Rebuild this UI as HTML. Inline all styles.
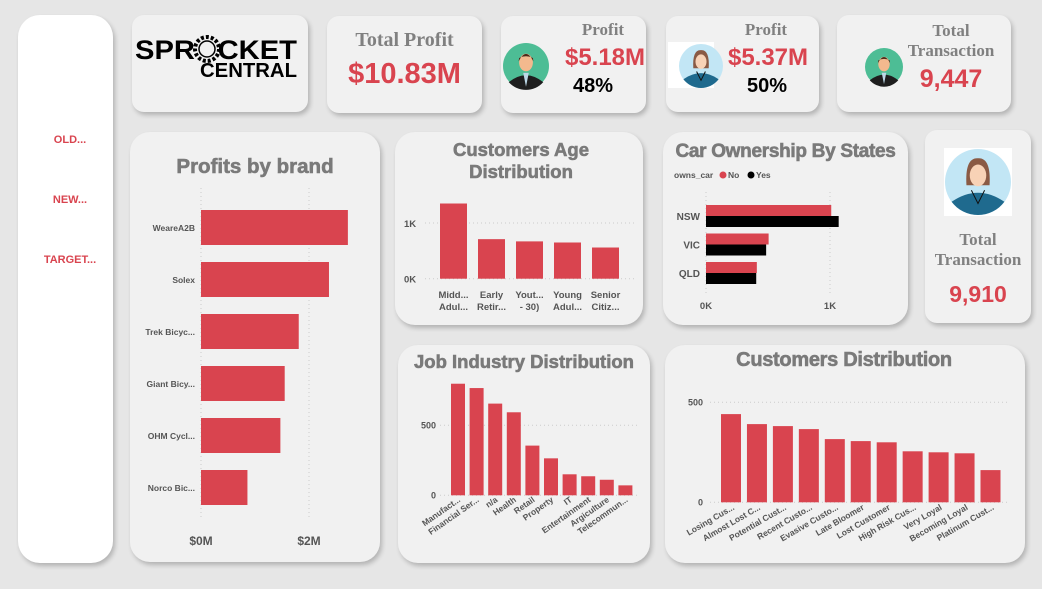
<!DOCTYPE html>
<html><head><meta charset="utf-8">
<style>
body{margin:0;width:1042px;height:589px;background:#e6e6e6;overflow:hidden;position:relative;font-family:"Liberation Sans",sans-serif}
.card{position:absolute;background:#f1f1f1;border-radius:12px;box-shadow:2px 3px 5px rgba(0,0,0,0.22)}
.big{border-radius:20px}
.t{position:absolute;white-space:nowrap;text-align:center}
.serif{font-family:"Liberation Serif",serif;font-weight:bold;color:#808080}
.red{color:#d9444f;font-weight:bold}
.ct{font-weight:bold;color:#7a7a7a;-webkit-text-stroke:0.6px #7a7a7a}
svg{position:absolute;left:0;top:0}
</style></head><body>
<div class="card big" style="left:18px;top:15px;width:95px;height:548px;background:#fff;border-radius:22px"></div>
<div class="card" style="left:132px;top:15px;width:176px;height:97px"></div>
<div class="card" style="left:327px;top:16px;width:155px;height:97px"></div>
<div class="card" style="left:501px;top:16px;width:145px;height:97px"></div>
<div class="card" style="left:666px;top:16px;width:153px;height:96px"></div>
<div class="card" style="left:837px;top:15px;width:174px;height:97px"></div>
<div class="card big" style="left:130px;top:132px;width:250px;height:430px"></div>
<div class="card big" style="left:395px;top:132px;width:248px;height:193px"></div>
<div class="card big" style="left:663px;top:132px;width:245px;height:193px"></div>
<div class="card" style="left:925px;top:130px;width:106px;height:193px"></div>
<div class="card big" style="left:398px;top:345px;width:252px;height:218px"></div>
<div class="card big" style="left:665px;top:345px;width:360px;height:218px"></div>

<div class="t red" style="left:30px;top:134px;width:80px;font-size:11px">OLD...</div>
<div class="t red" style="left:30px;top:194px;width:80px;font-size:11px">NEW...</div>
<div class="t red" style="left:30px;top:254px;width:80px;font-size:11px">TARGET...</div>

<div class="t serif" style="left:327px;top:29px;width:155px;font-size:20px">Total Profit</div>
<div class="t red" style="left:327px;top:58px;width:155px;font-size:29px">$10.83M</div>
<div class="t serif" style="left:553px;top:20px;width:100px;font-size:17px">Profit</div>
<div class="t red" style="left:553px;top:44px;width:104px;font-size:24px">$5.18M</div>
<div class="t" style="left:553px;top:75px;width:80px;font-size:20px;font-weight:bold;color:#000">48%</div>
<div class="t serif" style="left:716px;top:20px;width:100px;font-size:17px">Profit</div>
<div class="t red" style="left:716px;top:44px;width:104px;font-size:24px">$5.37M</div>
<div class="t" style="left:727px;top:75px;width:80px;font-size:20px;font-weight:bold;color:#000">50%</div>
<div class="t serif" style="left:896px;top:21px;width:110px;font-size:17px;line-height:20px">Total<br>Transaction</div>
<div class="t red" style="left:896px;top:65px;width:110px;font-size:25px">9,447</div>
<div class="t serif" style="left:925px;top:230px;width:106px;font-size:17px;line-height:20px">Total<br>Transaction</div>
<div class="t red" style="left:925px;top:281px;width:106px;font-size:23px">9,910</div>

<div class="t ct" style="left:130px;top:155px;width:250px;font-size:20.5px">Profits by brand</div>
<div class="t ct" style="left:395px;top:139px;width:252px;font-size:18.5px;line-height:22px">Customers Age<br>Distribution</div>
<div class="t ct" style="left:663px;top:141px;width:245px;font-size:19px;letter-spacing:-0.3px">Car Ownership By States</div>
<div class="t ct" style="left:398px;top:351px;width:252px;font-size:18.5px">Job Industry Distribution</div>
<div class="t ct" style="left:665px;top:349px;width:358px;font-size:20px;letter-spacing:-0.3px">Customers Distribution</div>

<svg id="chart" width="1042" height="589">
 <g>
  <text x="135" y="59" font-family="Liberation Sans" font-weight="bold" font-size="27" textLength="162" lengthAdjust="spacingAndGlyphs" fill="#000">SPROCKET</text>
  <text x="200" y="77" font-family="Liberation Sans" font-weight="bold" font-size="20" textLength="97" lengthAdjust="spacingAndGlyphs" fill="#000">CENTRAL</text>
  <circle cx="207" cy="49" r="12" fill="#f1f1f1" stroke="#000" stroke-width="4" stroke-dasharray="3 2"/>
  <circle cx="207" cy="49" r="8" fill="#f1f1f1" stroke="#000" stroke-width="1.5"/>
 </g>
 <g id="avatars"></g>
 <g id="brandG"></g><g id="ageG"></g><g id="carG"></g><g id="jobG"></g><g id="custG"></g>
</svg>
<script>
const brandCats=["WeareA2B","Solex","Trek Bicyc...","Giant Bicy...","OHM Cycl...","Norco Bic..."];
const brandVals=[2.72,2.37,1.81,1.55,1.47,0.86];
const brandTicks=[0,2];
const ageCats=[["Midd...","Adul..."],["Early","Retir..."],["Yout...","- 30)"],["Young","Adul..."],["Senior","Citiz..."]];
const ageVals=[1.35,0.71,0.67,0.65,0.56];
const ageTicks=[0,1];
const carStates=["NSW","VIC","QLD"];
const carNo=[1.01,0.505,0.41];
const carYes=[1.07,0.485,0.405];
const carTicks=[0,1];
const jobCats=["Manufact...","Financial Ser...","n/a","Health","Retail","Property","IT","Entertainment","Argiculture","Telecommun..."];
const jobVals=[797,766,655,593,355,264,150,136,111,71];
const jobTicks=[0,500];
const custCats=["Losing Cus...","Almost Lost C...","Potential Cust...","Recent Custo...","Evasive Custo...","Late Bloomer","Lost Customer","High Risk Cus...","Very Loyal","Becoming Loyal","Platinum Cust..."];
const custVals=[441,391,381,366,316,306,300,255,250,245,161];
const custTicks=[0,500];

const NS="http://www.w3.org/2000/svg";
const RED="#d9444f";
function mk(parent,tag,attrs,txt){const e=document.createElementNS(NS,tag);for(const k in attrs)e.setAttribute(k,attrs[k]);if(txt!==undefined)e.textContent=txt;parent.appendChild(e);return e;}
const lblStyle={"font-family":"Liberation Sans","font-weight":"bold",fill:"#555"};

(function(){const g=document.getElementById('brandG');
 const x=v=>201+v*54;const y=i=>210+i*52;
 brandTicks.forEach(t=>{const l=mk(g,'line',{x1:x(t),x2:x(t),y1:188,y2:520,stroke:"#ccc","stroke-dasharray":"1 3"});
  
  
  const tx=mk(g,'text',Object.assign({x:x(t),y:545,"text-anchor":"middle","font-size":12},lblStyle),"$"+t+"M");
  
  });
 brandCats.forEach((c,i)=>{const r=mk(g,'rect',{x:x(0),y:y(i),width:x(brandVals[i])-x(0),height:35,fill:RED});
  
  
  const t=mk(g,'text',Object.assign({x:195,y:y(i)+21,"text-anchor":"end","font-size":8.5},lblStyle),c);
  
  });
})();
(function(){const g=document.getElementById('ageG');
 const y=v=>278.7-v*55.7;const x=i=>440+i*38;
 ageTicks.forEach(t=>{const l=mk(g,'line',{x1:425,x2:635,y1:y(t),y2:y(t),stroke:"#ccc","stroke-dasharray":"1 3"});
  
  
  const tx=mk(g,'text',Object.assign({x:404,y:y(t)+4,"font-size":9.5},lblStyle),t+"K");
  
  });
 ageCats.forEach((c,i)=>{const r=mk(g,'rect',{x:x(i),y:y(ageVals[i]),width:27,height:y(0)-y(ageVals[i]),fill:RED});
  
  
  c.forEach((s,j)=>{const t=mk(g,'text',Object.assign({x:x(i)+13.5,y:298+j*12,"text-anchor":"middle","font-size":9.5},lblStyle),s);
  
  });});
})();
(function(){const g=document.getElementById('carG');
 const x=v=>706+v*124;const y=i=>205+i*28.5;
 const lg=mk(g,'text',Object.assign({x:674,y:178,"font-size":8.5},lblStyle),"owns_car");
 
 
 [[723,RED,"No"],[751,"#000","Yes"]].forEach(a=>{const c=mk(g,'circle',{cx:a[0],cy:175,r:3.5,fill:a[1]});
  
  
  const t=mk(g,'text',Object.assign({x:a[0]+5,y:178,"font-size":8.5},lblStyle),a[2]);
  
  });
 carTicks.forEach(t=>{const l=mk(g,'line',{x1:x(t),x2:x(t),y1:192,y2:295,stroke:"#ccc","stroke-dasharray":"1 3"});
  
  
  const tx=mk(g,'text',Object.assign({x:x(t),y:309,"text-anchor":"middle","font-size":9.5},lblStyle),t+"K");
  
  });
 carStates.forEach((s,i)=>{const r1=mk(g,'rect',{x:x(0),y:y(i),width:x(carNo[i])-x(0),height:11,fill:RED});
  
  
  const r2=mk(g,'rect',{x:x(0),y:y(i)+11,width:x(carYes[i])-x(0),height:11,fill:"#000"});
  
  
  const t=mk(g,'text',Object.assign({x:700,y:y(i)+15,"text-anchor":"end","font-size":10},lblStyle),s);
  
  });
})();
(function(){const g=document.getElementById('jobG');
 const y=v=>495.3-v*0.14;const x=i=>451+i*18.6;
 jobTicks.forEach(t=>{const l=mk(g,'line',{x1:440,x2:640,y1:y(t),y2:y(t),stroke:"#ccc","stroke-dasharray":"1 3"});
  
  
  const tx=mk(g,'text',Object.assign({x:436,y:y(t)+3,"text-anchor":"end","font-size":9},lblStyle),t);
  
  });
 jobCats.forEach((c,i)=>{const r=mk(g,'rect',{x:x(i),y:y(jobVals[i]),width:14,height:y(0)-y(jobVals[i]),fill:RED});
  
  
  const cx=x(i)+10,cy=501;
  const t=mk(g,'text',Object.assign({x:cx,y:cy,"text-anchor":"end","font-size":8.5,transform:`rotate(-35 ${cx} ${cy})`},lblStyle),c);
  
  });
})();
(function(){const g=document.getElementById('custG');
 const y=v=>502.3-v*0.2;const x=i=>721+i*25.95;
 custTicks.forEach(t=>{const l=mk(g,'line',{x1:710,x2:1010,y1:y(t),y2:y(t),stroke:"#ccc","stroke-dasharray":"1 3"});
  
  
  const tx=mk(g,'text',Object.assign({x:703,y:y(t)+3,"text-anchor":"end","font-size":9},lblStyle),t);
  
  });
 custCats.forEach((c,i)=>{const r=mk(g,'rect',{x:x(i),y:y(custVals[i]),width:20,height:y(0)-y(custVals[i]),fill:RED});
  
  
  const cx=x(i)+14,cy=509;
  const t=mk(g,'text',Object.assign({x:cx,y:cy,"text-anchor":"end","font-size":8.5,transform:`rotate(-30 ${cx} ${cy})`},lblStyle),c);
  
  });
})();
(function(){const g=document.getElementById('avatars');
 function male(cx,cy,r){const a=mk(g,'g',{});
  
  
  mk(a,'circle',{cx,cy,r,fill:"#4dbd95"});
  mk(a,'path',{d:`M${cx-r*0.75} ${cy+r*0.7} Q${cx} ${cy+r*0.1} ${cx+r*0.75} ${cy+r*0.7} A${r} ${r} 0 0 1 ${cx-r*0.75} ${cy+r*0.7}Z`,fill:"#1e1e1e"});
  mk(a,'path',{d:`M${cx-r*0.12} ${cy+r*0.3} L${cx+r*0.12} ${cy+r*0.3} L${cx} ${cy+r*0.9}Z`,fill:"#bcd7e6"});
  mk(a,'ellipse',{cx,cy:cy-r*0.15,rx:r*0.3,ry:r*0.38,fill:"#f3b98e"});
  mk(a,'path',{d:`M${cx-r*0.32} ${cy-r*0.2} Q${cx} ${cy-r*0.85} ${cx+r*0.32} ${cy-r*0.2} L${cx+r*0.3} ${cy-r*0.35} Q${cx} ${cy-r*0.5} ${cx-r*0.3} ${cy-r*0.35}Z`,fill:"#4a2a1a"});}
 function female(x0,y0,s,cx,cy,r){const a=mk(g,'g',{});
  
  
  mk(a,'rect',{x:x0,y:y0,width:s,height:s,fill:"#fff"});
  mk(a,'circle',{cx,cy,r,fill:"#c2e6f5"});
  mk(a,'path',{d:`M${cx-r*0.35} ${cy+r*0.1} Q${cx-r*0.4} ${cy-r*0.75} ${cx} ${cy-r*0.72} Q${cx+r*0.4} ${cy-r*0.75} ${cx+r*0.35} ${cy+r*0.1}Z`,fill:"#8a5a44"});
  mk(a,'path',{d:`M${cx-r*0.8} ${cy+r*0.6} Q${cx} ${cy+r*0.05} ${cx+r*0.8} ${cy+r*0.6} A${r} ${r} 0 0 1 ${cx-r*0.8} ${cy+r*0.6}Z`,fill:"#1f6a8e"});
  mk(a,'ellipse',{cx,cy:cy-r*0.2,rx:r*0.25,ry:r*0.33,fill:"#f8d2b6"});
  mk(a,'path',{d:`M${cx-r*0.2} ${cy+r*0.25} L${cx} ${cy+r*0.65} L${cx+r*0.2} ${cy+r*0.25}`,stroke:"#111",fill:"none","stroke-width":1});}
 male(526,66,23); female(668,42,46,701,66,22); male(884,67,19); female(944,148,68,978,182,33);
})();
</script>
</body></html>
